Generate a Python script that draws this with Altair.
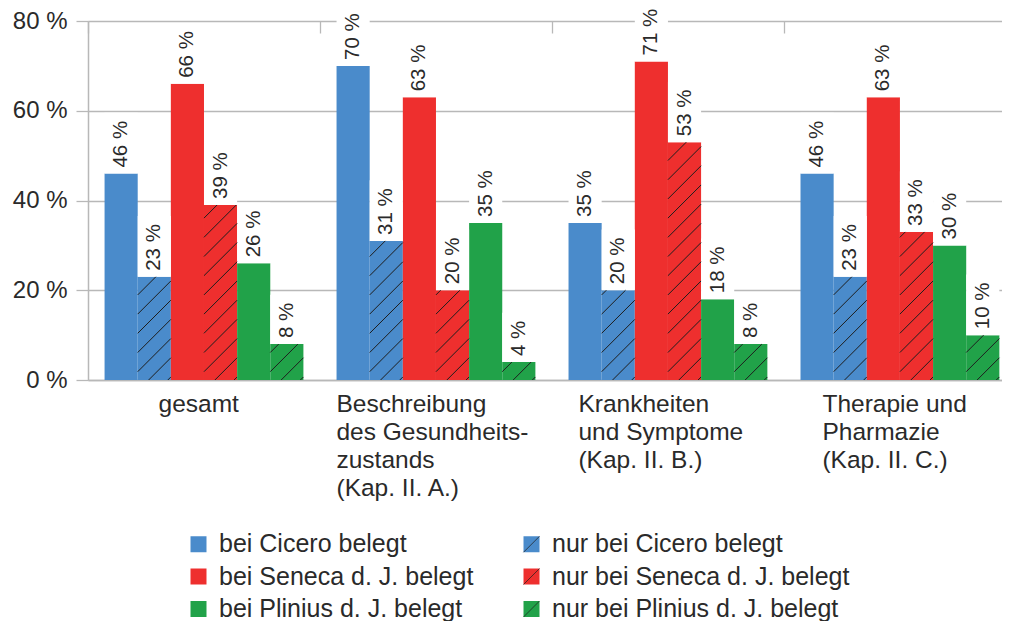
import json
import pandas as pd
import altair as alt

# ---------------- data ----------------
group_lines = [
    ["gesamt"],
    ["Beschreibung", "des Gesundheits-", "zustands", "(Kap. II. A.)"],
    ["Krankheiten", "und Symptome", "(Kap. II. B.)"],
    ["Therapie und", "Pharmazie", "(Kap. II. C.)"],
]
series = [
    "bei Cicero belegt",
    "nur bei Cicero belegt",
    "bei Seneca d. J. belegt",
    "nur bei Seneca d. J. belegt",
    "bei Plinius d. J. belegt",
    "nur bei Plinius d. J. belegt",
]
hatched = [False, True, False, True, False, True]
cicero = [46, 70, 35, 46]
cicero_only = [23, 31, 20, 23]
seneca = [66, 63, 71, 63]
seneca_only = [39, 20, 53, 33]
plinius = [26, 35, 18, 30]
plinius_only = [8, 4, 8, 10]
y_ticks = [0, 20, 40, 60, 80]

# ---------------- style / layout ----------------
colors = ["#4a8bcb", "#4a8bcb", "#ee2f2e", "#ee2f2e", "#21a249", "#21a249"]
FONT = "Liberation Sans"
TEXT = "#2a2a2a"
GRID = "#b8b8b8"
W, H = 914, 359
GROUP_SPAN = 7
X_MAX = 27.58
PX_X = W / X_MAX
PX_Y = H / 80
label_offsets = [70, 16, 26, 38]
HATCH_SPACING = 19.2
HATCH_PHASE = 8.3
VALUE_FS = 20.5

# ---------------- tables ----------------
rows = []
for gi in range(len(group_lines)):
    vals = [cicero[gi], cicero_only[gi], seneca[gi], seneca_only[gi], plinius[gi], plinius_only[gi]]
    for si, v in enumerate(vals):
        x0 = gi * GROUP_SPAN + 0.5 + si
        lab = f"{v} %"
        text_len = (len(str(v)) * 0.556 + 0.278 + 0.889) * VALUE_FS
        rows.append(dict(series=series[si], skey=f"s{si}", x0=x0, x1=x0 + 1, xc=x0 + 0.5,
                         value=v, label=lab, hatched=hatched[si],
                         box_top=v + (text_len + 14) / PX_Y))
df = pd.DataFrame(rows)

hrows = []
for r in df[df.hatched].itertuples():
    w = PX_X
    h = r.value * PX_Y
    c = HATCH_PHASE
    while c > -w:
        c -= HATCH_SPACING
    while c < h:
        xs = max(0.0, -c)
        xe = min(w, h - c)
        if xe > xs:
            hrows.append(dict(hx=r.x0 + xs / PX_X, hy=(xs + c) / PX_Y,
                              hx2=r.x0 + xe / PX_X, hy2=(xe + c) / PX_Y))
        c += HATCH_SPACING
hdf = pd.DataFrame(hrows)

# ---------------- axes ----------------
tick_vals = [gi * GROUP_SPAN for gi in range(len(group_lines))]
label_expr = ""
for tv, lines in zip(tick_vals, group_lines):
    label_expr += f"datum.value == {tv} ? {json.dumps(lines)} : "
label_expr += "''"
offset_cond = {"condition": [{"test": f"datum.value == {tv}", "value": off}
                             for tv, off in zip(tick_vals[:-1], label_offsets[:-1])],
               "value": label_offsets[-1]}

x_scale = alt.Scale(domain=[0, X_MAX], nice=False, zero=False)
y_scale = alt.Scale(domain=[0, 80], nice=False)

x_axis = alt.Axis(values=tick_vals, labelExpr=label_expr, title=None, orient="bottom",
                  grid=True, gridDash=[12, 2000], gridColor=GRID, gridWidth=1.3,
                  ticks=False, domainColor=GRID, domainWidth=1.5,
                  labelAlign="left", labelBaseline="top", labelPadding=12,
                  labelFont=FONT, labelFontSize=24.5, labelColor=TEXT, labelLineHeight=28,
                  labelFlush=False, labelOverlap=False, labelBound=False, labelLimit=600,
                  labelOffset=offset_cond)
y_axis = alt.Axis(values=y_ticks, labelExpr="datum.value + ' %'", title=None,
                  grid=True, gridColor=GRID, gridWidth=1.3,
                  domainColor=GRID, domainWidth=1.5, tickColor=GRID, tickSize=12, tickWidth=1.3,
                  labelPadding=9, labelFont=FONT, labelFontSize=24, labelColor=TEXT)

legend_order = [0, 2, 4, 1, 3, 5]   # column-major fill: left column "bei", right column "nur"
legend_common = dict(orient="none", legendX=98, legendY=510.5, columns=2, title=None,
                     symbolSize=256, labelFont=FONT, labelFontSize=25, labelColor=TEXT,
                     labelOffset=8, rowPadding=6.5, columnPadding=45, labelLimit=600, padding=0)

bars = alt.Chart(df).mark_rect().encode(
    x=alt.X("x0:Q", scale=x_scale, axis=x_axis),
    x2="x1:Q",
    y=alt.Y("value:Q", scale=y_scale, axis=y_axis),
    y2=alt.datum(0),
    color=alt.Color("series:N", scale=alt.Scale(domain=series, range=colors),
                    legend=alt.Legend(symbolType="square", symbolStrokeWidth=0,
                                      values=[series[i] for i in legend_order], **legend_common)),
)

boxes = alt.Chart(df).mark_rect(color="white").encode(
    x=alt.X("x0:Q", axis=x_axis), x2="x1:Q",
    y=alt.Y("value:Q", axis=y_axis), y2="box_top:Q",
)

hatch = alt.Chart(hdf).mark_rule(color="#1e1e1e", strokeWidth=1).encode(
    x=alt.X("hx:Q", axis=x_axis), x2="hx2:Q",
    y=alt.Y("hy:Q", axis=y_axis), y2="hy2:Q",
)

texts = alt.Chart(df).mark_text(angle=270, align="left", baseline="middle", dx=6,
                                font=FONT, fontSize=VALUE_FS, color=TEXT).encode(
    x=alt.X("xc:Q", axis=x_axis),
    y=alt.Y("value:Q", axis=y_axis),
    text="label:N",
)

skeys = [f"s{i}" for i in range(len(series))]
paths = ["M-1,1L1,-1" if h else "M0,0" for h in hatched]
key_expr = ""
for k, s in zip(skeys, series):
    key_expr += f"datum.value == '{k}' ? '{s}' : "
key_expr += "''"
hatch_legend = alt.Chart(df).transform_filter("false").mark_point(
    filled=False, color="#1e1e1e", strokeWidth=1).encode(
    shape=alt.Shape("skey:N", scale=alt.Scale(domain=skeys, range=paths),
                    legend=alt.Legend(labelExpr=key_expr, labelOpacity=0,
                                      values=[skeys[i] for i in legend_order],
                                      symbolFillColor="transparent", symbolStrokeColor="#1e1e1e",
                                      symbolStrokeWidth=1, **legend_common)),
)

chart = alt.layer(bars, boxes, hatch, texts, hatch_legend).properties(
    width=W, height=H,
    autosize=alt.AutoSizeParams(type="none"),
    padding={"left": 80, "top": 13, "right": 0, "bottom": 241},
).configure_view(stroke=None)

chart.save("out.html", embed_options={"renderer": "svg", "actions": False})
